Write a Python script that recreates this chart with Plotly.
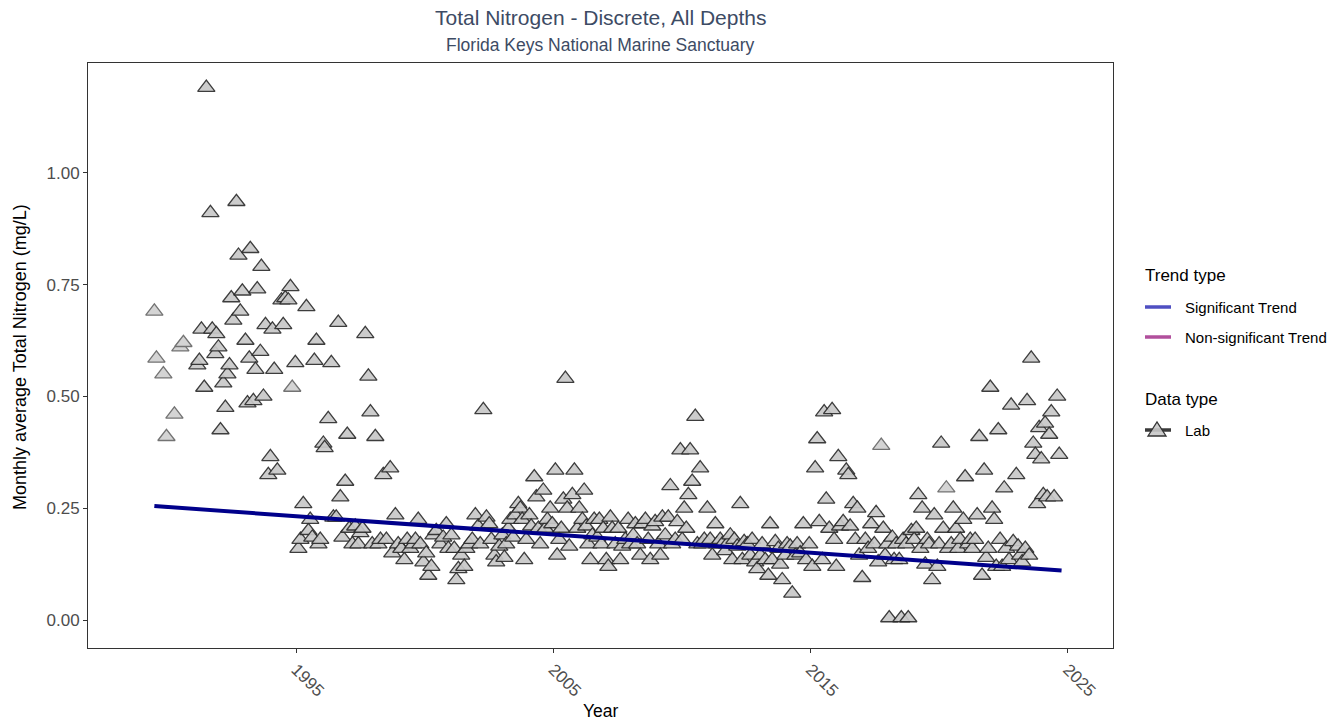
import plotly.graph_objects as go

# ---------------- DATA (decimal year, monthly average TN mg/L) ----------------
years_1991_1994 = [1991.15, 1991.23, 1991.31, 1991.42, 1991.50, 1991.66, 1991.73, 1991.85, 1991.89, 1991.97,
                   1992.05, 1992.16, 1992.24, 1992.32, 1992.40, 1992.47, 1992.55, 1992.67, 1992.75, 1992.82,
                   1992.90, 1993.02, 1993.10, 1993.17, 1993.21, 1993.33, 1993.41, 1993.48, 1993.60, 1993.64,
                   1993.72, 1993.80, 1993.91, 1993.99, 1994.07, 1994.14, 1994.26, 1994.42, 1994.49, 1994.57,
                   1994.69, 1994.77, 1994.96]
tn_1991_1994 = [0.57, 0.58, 0.65, 0.52, 1.19, 0.91, 0.65, 0.595, 0.64, 0.61,
                0.425, 0.53, 0.475, 0.55, 0.57, 0.72, 0.67, 0.935, 0.815, 0.69,
                0.735, 0.625, 0.485, 0.585, 0.83, 0.49, 0.56, 0.74, 0.60, 0.79,
                0.50, 0.66, 0.325, 0.365, 0.65, 0.56, 0.335, 0.715, 0.66, 0.72,
                0.715, 0.745, 0.575]

years_1995_2004 = [1995.08, 1995.16, 1995.27, 1995.39, 1995.47, 1995.54, 1995.62, 1995.70, 1995.78, 1995.86,
                   1995.93, 1996.05, 1996.10, 1996.24, 1996.36, 1996.44, 1996.55, 1996.63, 1996.71, 1996.79,
                   1996.90, 1996.98, 1997.06, 1997.18, 1997.29, 1997.41, 1997.49, 1997.57, 1997.68, 1997.80,
                   1997.88, 1997.95, 1998.07, 1998.19, 1998.27, 1998.38, 1998.50, 1998.65, 1998.73, 1998.85,
                   1998.96, 1999.08, 1999.20, 1999.31, 1999.43, 1999.55, 1999.63, 1999.74, 1999.82, 1999.94,
                   2000.05, 2000.13, 2000.25, 2000.33, 2000.44, 2000.60, 2000.71, 2000.83, 2000.91, 2001.03,
                   2001.14, 2001.22, 2001.30, 2001.41, 2001.53, 2001.61, 2001.72, 2001.84, 2001.96, 2002.07,
                   2002.15, 2002.27, 2002.39, 2002.50, 2002.58, 2002.70, 2002.77, 2002.89, 2003.01, 2003.09,
                   2003.16, 2003.24, 2003.32, 2003.43, 2003.51, 2003.63, 2003.71, 2003.78, 2003.86, 2003.94,
                   2004.06, 2004.13, 2004.25, 2004.33, 2004.41, 2004.48, 2004.60, 2004.68, 2004.76, 2004.87,
                   2004.95]
tn_1995_2004 = [0.16, 0.18, 0.26, 0.70, 0.20, 0.225, 0.185, 0.58, 0.625, 0.17,
                0.18, 0.395, 0.385, 0.45, 0.575, 0.23, 0.23, 0.665, 0.275, 0.185,
                0.31, 0.415, 0.205, 0.17, 0.21, 0.17, 0.195, 0.205, 0.64, 0.545,
                0.465, 0.17, 0.41, 0.17, 0.18, 0.325, 0.18, 0.34, 0.15, 0.235,
                0.17, 0.16, 0.135, 0.18, 0.16, 0.17, 0.18, 0.225, 0.17, 0.13,
                0.15, 0.10, 0.12, 0.19, 0.20, 0.17, 0.185, 0.215, 0.16, 0.19,
                0.16, 0.09, 0.115, 0.145, 0.12, 0.16, 0.17, 0.18, 0.235, 0.21,
                0.17, 0.47, 0.23, 0.215, 0.18, 0.145, 0.13, 0.165, 0.19, 0.14,
                0.17, 0.205, 0.225, 0.185, 0.235, 0.26, 0.25, 0.225, 0.135, 0.18,
                0.235, 0.21, 0.32, 0.275, 0.205, 0.17, 0.29, 0.205, 0.225, 0.25,
                0.215]

years_2005_2014 = [2005.07, 2005.14, 2005.22, 2005.30, 2005.38, 2005.46, 2005.53, 2005.61, 2005.73, 2005.81,
                   2005.92, 2006.00, 2006.12, 2006.19, 2006.27, 2006.35, 2006.43, 2006.51, 2006.58, 2006.70,
                   2006.78, 2006.86, 2006.93, 2007.05, 2007.13, 2007.21, 2007.28, 2007.40, 2007.52, 2007.59,
                   2007.67, 2007.79, 2007.90, 2007.98, 2008.10, 2008.18, 2008.25, 2008.37, 2008.45, 2008.57,
                   2008.68, 2008.76, 2008.84, 2008.95, 2009.07, 2009.15, 2009.23, 2009.34, 2009.46, 2009.54,
                   2009.61, 2009.73, 2009.81, 2009.93, 2010.00, 2010.08, 2010.16, 2010.24, 2010.31, 2010.39,
                   2010.51, 2010.59, 2010.70, 2010.78, 2010.86, 2010.98, 2011.09, 2011.17, 2011.29, 2011.36,
                   2011.48, 2011.56, 2011.68, 2011.75, 2011.87, 2011.95, 2012.03, 2012.14, 2012.26, 2012.34,
                   2012.41, 2012.53, 2012.65, 2012.72, 2012.84, 2012.92, 2013.04, 2013.11, 2013.23, 2013.35,
                   2013.42, 2013.50, 2013.62, 2013.74, 2013.81, 2013.89, 2014.01, 2014.08, 2014.20, 2014.28,
                   2014.40, 2014.47, 2014.59, 2014.71, 2014.82, 2014.94]
tn_2005_2014 = [0.335, 0.145, 0.18, 0.205, 0.27, 0.54, 0.25, 0.165, 0.28, 0.335,
                0.205, 0.25, 0.225, 0.29, 0.21, 0.17, 0.135, 0.19, 0.225, 0.185,
                0.225, 0.17, 0.205, 0.135, 0.12, 0.23, 0.205, 0.17, 0.205, 0.135,
                0.165, 0.18, 0.225, 0.17, 0.19, 0.215, 0.17, 0.145, 0.215, 0.225,
                0.18, 0.135, 0.21, 0.22, 0.17, 0.145, 0.23, 0.19, 0.23, 0.30,
                0.17, 0.18, 0.22, 0.38, 0.18, 0.25, 0.205, 0.28, 0.38, 0.31,
                0.455, 0.17, 0.34, 0.17, 0.18, 0.25, 0.18, 0.145, 0.215, 0.17,
                0.18, 0.17, 0.155, 0.17, 0.19, 0.135, 0.18, 0.165, 0.26, 0.135,
                0.175, 0.17, 0.145, 0.18, 0.13, 0.115, 0.145, 0.17, 0.135, 0.10,
                0.215, 0.135, 0.175, 0.16, 0.125, 0.09, 0.145, 0.17, 0.165, 0.06,
                0.145, 0.17, 0.15, 0.215, 0.135, 0.17]

years_2015_2024 = [2015.06, 2015.17, 2015.25, 2015.33, 2015.45, 2015.52, 2015.60, 2015.72, 2015.83, 2015.91,
                   2015.99, 2016.07, 2016.14, 2016.26, 2016.38, 2016.46, 2016.53, 2016.65, 2016.73, 2016.81,
                   2016.88, 2017.00, 2017.12, 2017.23, 2017.35, 2017.47, 2017.54, 2017.62, 2017.82, 2017.89,
                   2017.97, 2018.05, 2018.17, 2018.24, 2018.32, 2018.44, 2018.52, 2018.59, 2018.71, 2018.79,
                   2018.91, 2019.02, 2019.10, 2019.18, 2019.26, 2019.33, 2019.45, 2019.53, 2019.60, 2019.72,
                   2019.80, 2019.92, 2019.99, 2020.07, 2020.15, 2020.34, 2020.46, 2020.54, 2020.65, 2020.73,
                   2020.81, 2020.93, 2021.00, 2021.12, 2021.20, 2021.28, 2021.39, 2021.47, 2021.55, 2021.66,
                   2021.74, 2021.82, 2021.90, 2021.98, 2022.05, 2022.13, 2022.21, 2022.29, 2022.36, 2022.44,
                   2022.52, 2022.60, 2022.71, 2022.79, 2022.87, 2022.99, 2023.06, 2023.14, 2023.22, 2023.34,
                   2023.41, 2023.49, 2023.57, 2023.65, 2023.73, 2023.80, 2023.88, 2023.96, 2024.04, 2024.11,
                   2024.19, 2024.27, 2024.35, 2024.46, 2024.58, 2024.66]
tn_2015_2024 = [0.12, 0.34, 0.405, 0.22, 0.135, 0.465, 0.27, 0.205, 0.47, 0.18,
                0.12, 0.365, 0.21, 0.22, 0.335, 0.325, 0.21, 0.26, 0.18, 0.25,
                0.145, 0.095, 0.18, 0.16, 0.215, 0.17, 0.24, 0.13, 0.205, 0.145,
                0.17, 0.005, 0.185, 0.135, 0.17, 0.135, 0.005, 0.18, 0.17, 0.005,
                0.20, 0.18, 0.205, 0.28, 0.16, 0.25, 0.125, 0.18, 0.17, 0.09,
                0.235, 0.12, 0.17, 0.395, 0.205, 0.16, 0.17, 0.25, 0.205, 0.16,
                0.18, 0.225, 0.32, 0.17, 0.18, 0.16, 0.18, 0.235, 0.41, 0.10,
                0.335, 0.14, 0.16, 0.52, 0.25, 0.225, 0.12, 0.425, 0.18, 0.12,
                0.295, 0.16, 0.135, 0.48, 0.175, 0.325, 0.165, 0.145, 0.13, 0.16,
                0.49, 0.145, 0.585, 0.395, 0.37, 0.26, 0.43, 0.36, 0.28, 0.44,
                0.275, 0.415, 0.465, 0.275, 0.50, 0.37]

# points drawn lighter (fewer samples)
years_light = [1989.48, 1989.56, 1989.83, 1989.95, 1990.26, 1990.49, 1990.61, 1994.84, 2017.74, 2020.27]
tn_light = [0.69, 0.585, 0.55, 0.41, 0.46, 0.61, 0.62, 0.52, 0.39, 0.295]

# significant trend line endpoints
trend_years = [1989.48, 2024.75]
trend_tn = [0.255, 0.111]

x_ticks = [1995, 2005, 2015, 2025]
y_ticks = [0.00, 0.25, 0.50, 0.75, 1.00]

# ---------------- FIGURE ----------------
FONT = "Liberation Sans, Arial, sans-serif"
W, H = 1340, 725
L, R, T, B = 88, 1113, 63, 648  # plot area in px

fig = go.Figure()

fill_dark = "rgba(200,200,200,1)"
edge_dark = "rgba(45,45,45,1)"

fig.add_trace(go.Scatter(
    x=years_light, y=tn_light, mode="markers", showlegend=False, hoverinfo="x+y",
    marker=dict(symbol="triangle-up", size=15, color="rgba(212,212,212,1)",
                line=dict(color="rgba(115,115,115,1)", width=1.3))))

all_x = years_1991_1994 + years_1995_2004 + years_2005_2014 + years_2015_2024
all_y = tn_1991_1994 + tn_1995_2004 + tn_2005_2014 + tn_2015_2024
fig.add_trace(go.Scatter(
    x=all_x, y=all_y, mode="markers", showlegend=False, hoverinfo="x+y",
    marker=dict(symbol="triangle-up", size=15, color=fill_dark, opacity=0.92,
                line=dict(color=edge_dark, width=1.3))))

fig.add_trace(go.Scatter(
    x=trend_years, y=trend_tn, mode="lines", showlegend=False,
    line=dict(color="#00008B", width=4)))

def px_x(px):
    return (px - L) / (R - L)

def px_y(py):
    return (B - py) / (B - T)

def txt(text, x, y, size, color="black", xanchor="left", angle=0):
    return dict(text=text, x=px_x(x), y=px_y(y), xref="paper", yref="paper", xanchor=xanchor,
                yanchor="middle", showarrow=False, textangle=angle,
                font=dict(family=FONT, size=size, color=color))

annotations = [
    txt("Total Nitrogen - Discrete, All Depths", 600.5, 17, 21, "#3d4b64", "center"),
    txt("Florida Keys National Marine Sanctuary", 600.5, 45, 17.5, "#3d4b64", "center"),
    txt("Monthly average Total Nitrogen (mg/L)", 20, 357, 18, "black", "center", -90),
    txt("Year", 600.5, 711, 17.5, "black", "center"),
    # legend texts
    txt("Trend type", 1143, 275, 17),
    txt("Significant Trend", 1183, 307, 15),
    txt("Non-significant Trend", 1183, 337, 15),
    txt("Data type", 1143, 399, 17),
    txt("Lab", 1183, 430, 15),
]

def seg(x0, x1, y, color, width):
    return dict(type="line", xref="paper", yref="paper", x0=px_x(x0), x1=px_x(x1), y0=px_y(y), y1=px_y(y),
                line=dict(color=color, width=width), layer="above")

tri_path = "M {a},{b} L {c},{b} L {d},{e} Z".format(
    a=px_x(1148), b=px_y(436), c=px_x(1166), d=px_x(1157), e=px_y(422))

shapes = [
    seg(1145, 1171, 307, "#4f4fc2", 3.5),
    seg(1145, 1171, 337, "#b14f9c", 3.5),
    seg(1145, 1171, 430, "#3a3a3a", 3.5),
    dict(type="path", xref="paper", yref="paper", path=tri_path,
         fillcolor="rgba(200,200,200,0.9)", line=dict(color="#333333", width=1.3), layer="above"),
]

axis_common = dict(showgrid=False, zeroline=False, showline=True, mirror=True, linecolor="#333333",
                   linewidth=1, ticks="outside", ticklen=4, tickcolor="#333333",
                   tickfont=dict(family=FONT, size=17, color="#4d4d4d"))

fig.update_layout(
    width=W, height=H,
    margin=dict(l=L, r=W - R, t=T, b=H - B),
    paper_bgcolor="white", plot_bgcolor="white",
    showlegend=False,
    font=dict(family=FONT),
    annotations=annotations,
    shapes=shapes,
    xaxis=dict(range=[1986.9, 2026.75], tickmode="array", tickvals=x_ticks,
               ticktext=[str(t) for t in x_ticks], tickangle=45, **axis_common),
    yaxis=dict(range=[-0.062, 1.245], tickmode="array", tickvals=y_ticks,
               ticktext=["%.2f" % t for t in y_ticks], **axis_common),
)

fig.write_html("out.html")
